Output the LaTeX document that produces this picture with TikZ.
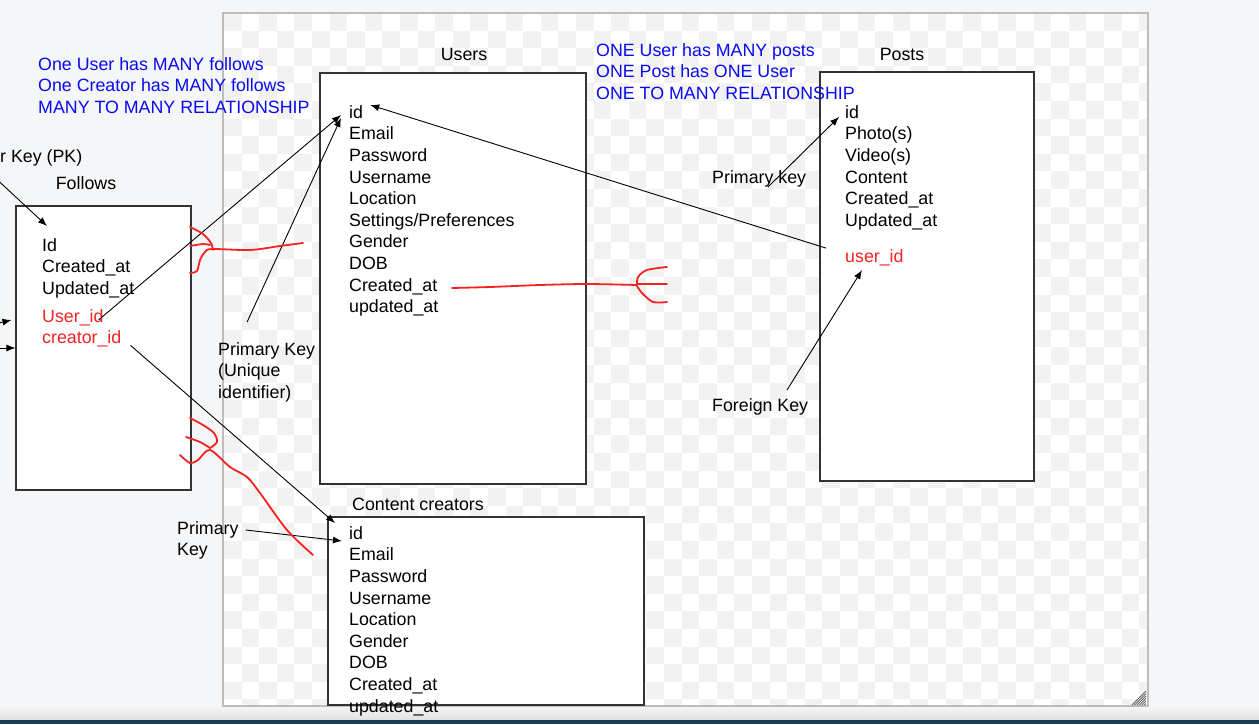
\documentclass[tikz,border=0pt]{standalone}
\usepackage{fontspec}
\setmainfont{Liberation Sans}
\usetikzlibrary{arrows.meta, positioning}
\definecolor{pagegray}{HTML}{F5F6F7}
\definecolor{checkgray}{HTML}{F2F2F2}
\definecolor{framegray}{HTML}{BDBDBD}
\definecolor{penred}{HTML}{F52222}
\definecolor{noteblue}{HTML}{0A0AF0}
\definecolor{barblue}{HTML}{1D3B52}

\begin{document}
\begin{tikzpicture}[x=1pt, y=-1pt,
  font=\fontsize{17.8}{21.2}\selectfont,
  base/.style={inner sep=0pt, text height=16.95pt, text depth=4.25pt},
  field/.style={base, anchor=west},
  under/.style={base, anchor=north west, at=(#1.south west)},
  key/.style={text=penred},
  note/.style={text=noteblue},
  tbl/.style={draw=black!80, line width=1.1pt, fill=white, inner sep=0pt},
  arr/.style={-{Latex[length=9pt,width=7pt]}, line width=0.9pt},
  pen/.style={draw=penred, line width=1.8pt, line cap=round, line join=round}]

  % page and canvas
  \clip (0,0) rectangle (1259,724);
  \fill[pagegray] (0,0) rectangle (1259,724);
  \shade[top color=pagegray, bottom color=black!12] (0,706) rectangle (1259,720);
  \fill[barblue] (0,720) rectangle (1259,724);
  \fill[white] (223,13) rectangle (1148,706);
  \begin{scope}
    \clip (223,13) rectangle (1148,706);
    \foreach \j in {0,...,39} {
      \pgfmathtruncatemacro\s{mod(\j,2)}
      \pgfmathtruncatemacro\t{\s+2}
      \foreach \i in {\s,\t,...,52}
        \fill[checkgray] (224+17.6*\i, 13+17.6*\j) rectangle ++(17.6,17.6);
    }
  \end{scope}
  \draw[framegray, line width=1.2pt] (223,13) rectangle (1148,706);
  \foreach \k in {0,...,5}
    \draw[black!60, line width=0.8pt] (1146,691+2.5*\k) -- (1132+2.5*\k,705);

  % tables
  \node[tbl, minimum width=175pt, minimum height=284pt] (follows) at (103.5,348) {};
  \node[tbl, minimum width=266pt, minimum height=411pt] (users) at (453,278.5) {};
  \node[tbl, minimum width=214pt, minimum height=409pt] (posts) at (927,276.5) {};
  \node[tbl, minimum width=316pt, minimum height=188pt] (creators) at (486,611) {};

  \node[base] (tfollows) at (86,183) {Follows};
  \node[base] (tusers) at (464,54) {Users};
  \node[base] (tposts) at (902,54) {Posts};
  \node[base] (tcreators) at (418,504) {Content creators};

  % Follows
  \node[field] (fid) at (42,245) {Id};
  \node[under=fid] (fcr) {Created\_at};
  \node[under=fcr] (fupd) {Updated\_at};
  \node[under=fupd, key, yshift=-6pt] (fuser) {User\_id};
  \node[under=fuser, key] (fcre) {creator\_id};

  % Users
  \node[field] (uid) at (349,112) {id};
  \node[under=uid] (uemail) {Email};
  \node[under=uemail] (upass) {Password};
  \node[under=upass] (uname) {Username};
  \node[under=uname] (uloc) {Location};
  \node[under=uloc] (uset) {Settings/Preferences};
  \node[under=uset] (ugen) {Gender};
  \node[under=ugen] (udob) {DOB};
  \node[under=udob] (ucr) {Created\_at};
  \node[under=ucr] (uupd) {updated\_at};

  % Posts
  \node[field] (pid) at (845,112) {id};
  \node[under=pid] (pphoto) {Photo(s)};
  \node[under=pphoto] (pvideo) {Video(s)};
  \node[under=pvideo] (pcont) {Content};
  \node[under=pcont] (pcr) {Created\_at};
  \node[under=pcr] (pupd) {Updated\_at};
  \node[under=pupd, key, yshift=-14.5pt] (puser) {user\_id};

  % Content creators
  \node[field] (cid) at (349,533) {id};
  \node[under=cid] (cemail) {Email};
  \node[under=cemail] (cpass) {Password};
  \node[under=cpass] (cname) {Username};
  \node[under=cname] (cloc) {Location};
  \node[under=cloc] (cgen) {Gender};
  \node[under=cgen] (cdob) {DOB};
  \node[under=cdob] (ccr) {Created\_at};
  \node[under=ccr] (cupd) {updated\_at};

  % relationship notes
  \node[field, note] (mm1) at (38,64) {One User has MANY follows};
  \node[under=mm1, note] (mm2) {One Creator has MANY follows};
  \node[under=mm2, note] (mm3) {MANY TO MANY RELATIONSHIP};
  \node[field, note] (om1) at (596,50) {ONE User has MANY posts};
  \node[under=om1, note] (om2) {ONE Post has ONE User};
  \node[under=om2, note] (om3) {ONE TO MANY RELATIONSHIP};

  % key labels
  \node[field] (pkf) at (0,156) {r Key (PK)};
  \node[field] (pku1) at (218,349) {Primary Key};
  \node[under=pku1] (pku2) {(Unique};
  \node[under=pku2] (pku3) {identifier)};
  \node[field] (pkp) at (712,177) {Primary key};
  \node[field] (fkp) at (712,405) {Foreign Key};
  \node[field] (pkc1) at (177,528) {Primary};
  \node[under=pkc1] (pkc2) {Key};

  \coordinate (pkfend) at (-10,173);
  \coordinate (left1) at (-5,324);
  \coordinate (left2) at (-5,348);

  % connectors
  \draw[arr] (pkfend) -- ([shift={(5,-19)}]fid.west);
  \draw[arr] (left1) -- ([shift={(-4,-28)}]follows.west);
  \draw[arr] (left2) -- (follows.west);
  \draw[arr] ([shift={(-5,4)}]fuser.east) -- ([shift={(-8,3)}]uid.west);
  \draw[arr] ([shift={(29,-16)}]pku1.north west) -- ([shift={(-8,6)}]uid.west);
  \draw[arr] ([shift={(-19,-8)}]puser.west) -- ([shift={(7,-7)}]uid.east);
  \draw[arr] ([shift={(56,10)}]pkp.west) -- ([shift={(-6,5)}]pid.west);
  \draw[arr] ([shift={(75,-15)}]fkp.west) -- ([shift={(17,14)}]puser.west);
  \draw[arr] ([shift={(9,8)}]fcre.east) -- ([shift={(-14,-10)}]cid.west);
  \draw[arr] ([shift={(7,2)}]pkc1.east) -- ([shift={(-7,8)}]cid.west);

  % red crow's feet
  \draw[pen] plot[smooth] coordinates {(190,227) (203,234) (211,243) (213,250)};
  \draw[pen] plot[smooth] coordinates {(190,246) (203,244) (210,245)};
  \draw[pen] plot[smooth] coordinates {(190,273) (197,271) (200,260) (205,252) (212,249) (250,250) (280,246) (303,243)};
  \draw[pen] plot[smooth] coordinates {(452,288) (490,287) (540,285) (587,284) (637,285)};
  \draw[pen] plot[smooth] coordinates {(637,285) (638,277) (647,270) (667,267)};
  \draw[pen] (637,284) -- (667,284);
  \draw[pen] plot[smooth] coordinates {(637,286) (642,293) (653,302) (667,302)};
  \draw[pen] plot[smooth] coordinates {(190,418) (203,425) (214,433) (217,442) (210,448)};
  \draw[pen] plot[smooth] coordinates {(186,437) (200,442) (210,448)};
  \draw[pen] plot[smooth, tension=0.5] coordinates {(180,455) (190,463) (198,460) (210,450) (230,467) (247,477) (260,493) (287,530) (313,555)};
\end{tikzpicture}
\end{document}
